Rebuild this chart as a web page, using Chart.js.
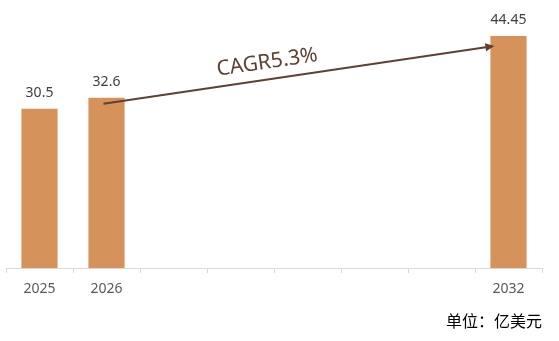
<!DOCTYPE html>
<html>
<head>
<meta charset="utf-8">
<script src="https://cdn.jsdelivr.net/npm/chart.js@4/dist/chart.umd.min.js"></script>
<style>
  html, body { margin: 0; padding: 0; background: #ffffff; }
  #wrap { width: 559px; height: 341px; position: relative; }
</style>
</head>
<body>
<div id="wrap"><canvas id="c"></canvas></div>
<script>
// Market size by year (亿美元); years without a bar are left empty
const years = ['2025', '2026', '2027', '2028', '2029', '2030', '2031', '2032'];
const marketSize = [30.5, 32.6, null, null, null, null, null, 44.45];
const tickLabels = ['2025', '2026', '', '', '', '', '', '2032'];
const cagrText = 'CAGR5.3%';
const unitText = '单位：亿美元';

const BAR_COLOR = '#D6925B';
const ARROW_COLOR = '#5E4130';
const FONT = '"Noto Sans", "Noto Sans CJK SC", sans-serif';

// Value labels above each bar
const valueLabels = {
  id: 'valueLabels',
  afterDatasetsDraw(chart) {
    const ctx = chart.ctx;
    const meta = chart.getDatasetMeta(0);
    ctx.save();
    ctx.fillStyle = '#404040';
    ctx.font = '14px ' + FONT;
    ctx.textAlign = 'center';
    ctx.textBaseline = 'middle';
    meta.data.forEach((bar, i) => {
      const v = marketSize[i];
      if (v == null) return;
      ctx.fillText(String(v), bar.x, bar.y - 16);
    });
    ctx.restore();
  }
};

// Growth arrow from the 2026 bar to the 2032 bar, with the CAGR caption
const cagrArrow = {
  id: 'cagrArrow',
  afterDatasetsDraw(chart) {
    const ctx = chart.ctx;
    const meta = chart.getDatasetMeta(0);
    const from = meta.data[1];
    const to = meta.data[7];
    const x1 = from.x - 3, y1 = from.y + 6;
    const x2 = to.x - to.width / 2 + 4, y2 = to.y + 10;
    const ang = Math.atan2(y2 - y1, x2 - x1);
    ctx.save();
    ctx.strokeStyle = ARROW_COLOR;
    ctx.fillStyle = ARROW_COLOR;
    ctx.lineWidth = 2;
    ctx.beginPath();
    ctx.moveTo(x1, y1);
    ctx.lineTo(x2 - 7 * Math.cos(ang), y2 - 7 * Math.sin(ang));
    ctx.stroke();
    // arrow head
    ctx.beginPath();
    ctx.moveTo(x2, y2);
    ctx.lineTo(x2 - 9 * Math.cos(ang) + 4 * Math.sin(ang), y2 - 9 * Math.sin(ang) - 4 * Math.cos(ang));
    ctx.lineTo(x2 - 9 * Math.cos(ang) - 4 * Math.sin(ang), y2 - 9 * Math.sin(ang) + 4 * Math.cos(ang));
    ctx.closePath();
    ctx.fill();
    // caption along the arrow
    const mx = x1 + (x2 - x1) * 0.425;
    const my = y1 + (y2 - y1) * 0.425;
    ctx.translate(mx, my);
    ctx.rotate(ang);
    ctx.font = '21px ' + FONT;
    ctx.textAlign = 'center';
    ctx.textBaseline = 'alphabetic';
    ctx.fillText(cagrText, 0, -11);
    ctx.restore();
  }
};

// Unit note at the lower right
const unitNote = {
  id: 'unitNote',
  afterDraw(chart) {
    const ctx = chart.ctx;
    ctx.save();
    ctx.fillStyle = '#000000';
    ctx.font = '16px "Noto Sans CJK SC", sans-serif';
    ctx.textAlign = 'right';
    ctx.textBaseline = 'middle';
    ctx.fillText(unitText, chart.chartArea.right, 321);
    ctx.restore();
  }
};

new Chart(document.getElementById('c'), {
  type: 'bar',
  data: {
    labels: years,
    datasets: [{
      data: marketSize,
      backgroundColor: BAR_COLOR,
      borderWidth: 0,
      barPercentage: 0.54,
      categoryPercentage: 1.0
    }]
  },
  options: {
    responsive: true,
    maintainAspectRatio: false,
    animation: false,
    layout: { padding: { left: 6, right: 17, top: 7, bottom: 0 } },
    plugins: {
      legend: { display: false },
      tooltip: { enabled: false }
    },
    scales: {
      x: {
        grid: {
          offset: true,
          drawOnChartArea: false,
          drawTicks: true,
          tickLength: 5,
          color: '#D9D9D9'
        },
        border: { color: '#D9D9D9', width: 1 },
        ticks: {
          autoSkip: false,
          maxRotation: 0,
          padding: 8,
          color: '#595959',
          font: { size: 14, family: FONT },
          callback: (v, i) => tickLabels[i]
        },
        afterFit(scale) { scale.height = 73; }
      },
      y: {
        display: false,
        min: 0,
        max: 50
      }
    }
  },
  plugins: [valueLabels, cagrArrow, unitNote]
});
</script>
</body>
</html>
